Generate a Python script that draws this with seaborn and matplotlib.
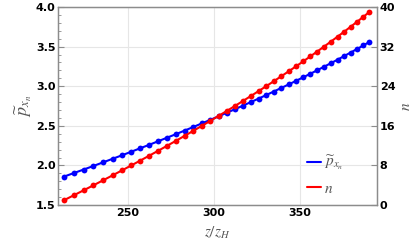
import numpy as np
import pandas as pd
import seaborn as sns
import matplotlib.pyplot as plt
from matplotlib.lines import Line2D
from matplotlib.ticker import MultipleLocator

sns.set_theme(style="whitegrid")
plt.rcParams['font.family'] = ['DejaVu Sans']
plt.rcParams['mathtext.fontset'] = 'stix'

# data
z = [212.80, 218.55, 224.24, 229.88, 235.45, 240.97, 246.43, 251.83, 257.17, 262.46,
     267.69, 272.85, 277.97, 283.02, 288.01, 292.95, 297.83, 302.65, 307.41, 312.12,
     316.76, 321.35, 325.88, 330.35, 334.76, 339.12, 343.42, 347.66, 351.84, 355.96,
     360.02, 364.03, 367.98, 371.87, 375.70, 379.47, 383.19, 386.84, 390.44]
p = [1.860, 1.905, 1.949, 1.994, 2.039, 2.084, 2.128, 2.173, 2.218, 2.262,
     2.307, 2.352, 2.396, 2.441, 2.486, 2.531, 2.575, 2.620, 2.665, 2.709,
     2.754, 2.799, 2.843, 2.888, 2.933, 2.978, 3.022, 3.067, 3.112, 3.156,
     3.201, 3.246, 3.290, 3.335, 3.380, 3.425, 3.469, 3.514, 3.559]
n = [1, 2, 3, 4, 5, 6, 7, 8, 9, 10, 11, 12, 13, 14, 15, 16, 17, 18, 19, 20,
     21, 22, 23, 24, 25, 26, 27, 28, 29, 30, 31, 32, 33, 34, 35, 36, 37, 38, 39]

df = pd.DataFrame({"z": z, "p": p, "n": n})

fig = plt.figure(figsize=(4.12, 2.48), dpi=100)
ax = fig.add_axes([0.141, 0.173, 0.774, 0.799])
ax2 = ax.twinx()

sns.lineplot(data=df, x="z", y="p", ax=ax, color=(0, 0, 1), lw=1.5,
             marker="o", markersize=4.2, markeredgewidth=0)
sns.lineplot(data=df, x="z", y="n", ax=ax2, color=(1, 0, 0), lw=1.5,
             marker="o", markersize=4.2, markeredgewidth=0)

ax.set_xlim(209.3, 394.8)
ax.set_ylim(1.5, 4.0)
ax2.set_ylim(0, 40)
ax.set_xticks([250, 300, 350])
ax.set_yticks([1.5, 2.0, 2.5, 3.0, 3.5, 4.0])
ax.set_yticklabels(["1.5", "2.0", "2.5", "3.0", "3.5", "4.0"])
ax2.set_yticks([0, 8, 16, 24, 32, 40])
ax.xaxis.set_minor_locator(MultipleLocator(10))
ax.yaxis.set_minor_locator(MultipleLocator(0.1))
ax2.grid(False)
ax.grid(True, which="major", color="#e6e6e6", lw=0.8)
ax.grid(False, which="minor")

for a in (ax, ax2):
    for s in a.spines.values():
        s.set_color("#8c8c8c")
        s.set_linewidth(0.9)
    a.tick_params(which="both", direction="in", color="#8c8c8c", labelsize=8,
                  labelcolor="black", pad=2)
    a.tick_params(which="major", length=4, width=0.8)
    a.tick_params(which="minor", length=2, width=0.6)
    for lab in a.get_xticklabels() + a.get_yticklabels():
        lab.set_fontweight("bold")
ax.tick_params(axis="y", which="both", right=False)
ax2.tick_params(axis="y", which="both", left=False)

ax.set_xlabel(r"$z/z_H$", fontsize=11, color="#555555", labelpad=5)
ax.set_ylabel(r"$\widetilde{p}_{x_n}$", fontsize=13, color="#555555", labelpad=1)
ax2.set_ylabel(r"$n$", fontsize=11, color="#555555", labelpad=2)

handles = [Line2D([], [], color=(0, 0, 1), lw=1.5),
           Line2D([], [], color=(1, 0, 0), lw=1.5)]
leg = ax.legend(handles, [r"$\widetilde{p}_{x_n}$", r"$n$"], loc="center left",
                bbox_to_anchor=(0.78, 0.152), frameon=False, fontsize=11,
                borderpad=0, borderaxespad=0,
                handlelength=0.9, handletextpad=0.25, labelspacing=0.55)
for t in leg.get_texts():
    t.set_color("#555555")

fig.savefig("out.png", dpi=100)
